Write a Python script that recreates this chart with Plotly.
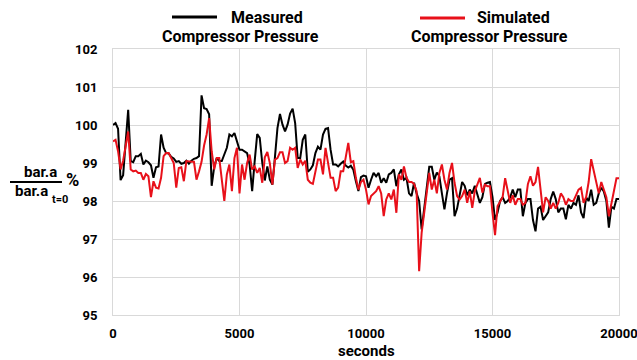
import plotly.graph_objects as go

seconds = list(range(0, 20001, 100))

measured = [
    100.0, 100.05, 99.9, 98.55, 98.68, 99.6, 100.4, 99.05, 99.02, 99.18,
    99.18, 99.24, 98.96, 99.06, 99.02, 98.94, 98.61, 98.89, 98.91, 99.75,
    99.4, 99.26, 99.25, 99.16, 99.12, 99.03, 99.05, 98.98, 99.0, 99.06,
    98.98, 99.06, 99.11, 99.13, 99.18, 100.78, 100.44, 100.42, 100.28, 98.4,
    98.9, 99.13, 99.05, 99.05, 99.22, 99.4, 99.75, 99.7, 99.79, 99.57,
    99.35, 99.35, 99.31, 99.26, 98.96, 98.26, 99.05, 99.76, 99.66, 99.0,
    98.54, 98.91, 98.56, 98.43, 99.15, 99.92, 100.29, 100.01, 99.83, 100.01,
    100.3, 100.43, 100.05, 99.13, 99.13, 99.61, 99.75, 98.77, 98.83, 98.94,
    99.26, 99.43, 99.35, 99.75, 99.9, 99.92, 99.35, 98.96, 98.96, 98.91,
    98.98, 99.04, 98.93, 98.88, 98.93, 98.82, 98.52, 98.26, 98.63, 98.67,
    98.65, 98.35, 98.56, 98.74, 98.65, 98.74, 98.48, 98.6, 98.48, 98.7,
    98.74, 98.83, 98.39, 98.7, 98.83, 98.56, 98.61, 98.2, 98.13, 98.48,
    98.2, 98.0, 97.25, 97.8, 98.3, 98.9, 98.9, 98.56, 98.75, 98.65,
    98.2, 97.78, 98.2, 98.56, 98.6, 97.6, 97.8, 98.2, 98.5, 98.4,
    98.15, 98.3, 98.2, 98.4, 98.2, 97.95, 98.1, 98.45, 98.48, 98.5,
    98.1, 97.5, 97.7, 98.0, 98.1, 97.95, 98.0, 98.1, 98.3, 98.1,
    98.3, 98.3, 97.6, 97.95, 98.05, 98.05, 97.5, 97.2, 97.8, 97.85,
    97.5, 97.6, 97.7, 98.05, 98.25, 98.05, 97.7, 97.8, 97.8, 97.52,
    97.9, 97.8, 97.95, 97.9, 98.15, 97.7, 97.55, 98.1, 98.0, 98.3,
    97.9, 97.95, 98.2, 98.35, 98.25, 98.0, 97.3, 97.85, 97.8, 98.05,
    98.05,
]

simulated = [
    99.57, 99.61, 99.31, 98.83, 99.06, 99.4, 99.83, 98.83, 98.78, 98.8,
    98.74, 98.74, 98.56, 98.71, 98.65, 98.1, 98.52, 98.35, 98.33, 98.61,
    99.18, 99.26, 99.26, 99.13, 99.0, 98.35, 98.87, 98.89, 98.52, 99.05,
    99.03, 99.03, 99.03, 98.56, 98.78, 99.03, 99.46, 99.75, 100.18, 99.31,
    98.83, 99.13, 99.13, 98.61, 98.0, 98.7, 98.96, 98.26, 99.13, 99.4,
    98.2, 98.96, 98.56, 99.0, 99.22, 98.83, 98.91, 98.74, 98.87, 98.48,
    99.15, 99.29, 98.99, 98.43, 99.09, 99.13, 99.28, 99.28, 99.0, 99.05,
    99.4, 99.35, 99.4, 98.87, 99.09, 98.96, 99.06, 98.56, 98.48, 98.45,
    98.78, 99.09, 99.09, 98.7, 99.4, 99.05, 98.61, 98.61, 98.26, 98.35,
    98.78, 98.78, 99.18, 99.53, 99.02, 99.05, 98.61, 98.3, 98.5, 98.56,
    98.3, 97.91, 98.13, 98.2, 98.26, 98.39, 98.2, 97.6, 98.04, 98.2,
    98.04, 98.3, 97.69, 98.7, 98.56, 98.91, 98.61, 98.5, 98.5, 98.45,
    98.26, 96.15, 97.17, 97.69, 98.2, 98.74, 98.3, 98.56, 98.2, 98.74,
    98.96, 98.56, 98.3, 98.74, 99.0, 98.48, 98.13, 98.04, 98.13, 98.3,
    97.95, 98.26, 97.82, 98.26, 98.43, 98.61, 98.22, 98.43, 98.39, 98.39,
    97.69, 97.1, 97.87, 98.0, 98.1, 98.6, 98.3, 97.95, 98.15, 97.9,
    98.05, 98.05, 97.9, 97.95, 98.45, 98.65, 98.4, 98.5, 98.9, 98.2,
    97.7, 98.1, 98.0, 97.8, 97.95, 97.8, 97.95, 98.2, 98.1, 97.9,
    98.05, 98.0, 98.0, 98.15, 98.3, 98.35, 97.95, 98.1, 98.5, 99.1,
    98.8, 98.5, 98.2, 98.5, 98.3, 98.1, 97.6, 97.95, 98.2, 98.6,
    98.6,
]

x_ticks = [0, 5000, 10000, 15000, 20000]
x_tick_labels = ["0", "5000", "10000", "15000", "20000"]
y_ticks = [95, 96, 97, 98, 99, 100, 101, 102]
y_tick_labels = ["95", "96", "97", "98", "99", "100", "101", "102"]

FONT = "Roboto"
BLACK = "#000000"
RED = "#e8101a"
GRID = "#d9d9d9"

fig = go.Figure()
fig.add_trace(go.Scatter(x=seconds, y=measured, mode="lines",
                         line=dict(color=BLACK, width=2), showlegend=False))
fig.add_trace(go.Scatter(x=seconds, y=simulated, mode="lines",
                         line=dict(color=RED, width=2), showlegend=False))

fig.update_layout(
    width=637, height=360,
    margin=dict(l=113, r=18, t=49, b=45, autoexpand=False),
    plot_bgcolor="white", paper_bgcolor="white",
    showlegend=False,
    font=dict(family=FONT, color="black"),
    xaxis=dict(range=[0, 20000], tickvals=x_ticks, ticktext=x_tick_labels,
               showgrid=True, gridcolor=GRID, automargin=False,
               gridwidth=1, zeroline=False, showline=True, linecolor=GRID, mirror=True,
               tickfont=dict(family=FONT, size=13, weight="bold", color="black"),
               ticks="", ticklabelstandoff=6, ticklabeloverflow="allow"),
    yaxis=dict(range=[95, 102], tickvals=y_ticks, ticktext=y_tick_labels,
               showgrid=True, gridcolor=GRID, automargin=False,
               gridwidth=1, zeroline=False, showline=True, linecolor=GRID, mirror=True,
               tickfont=dict(family=FONT, size=13, weight="bold", color="black"),
               ticks="", ticklabelstandoff=12, ticklabeloverflow="allow"),
)

def px(xp):
    return (xp - 113) / 506

def py(yp):
    return (315 - yp) / 266

shapes = [
    dict(type="line", xref="paper", yref="paper", x0=px(172), x1=px(217), y0=py(17), y1=py(17),
         line=dict(color=BLACK, width=3)),
    dict(type="line", xref="paper", yref="paper", x0=px(420), x1=px(465), y0=py(18), y1=py(18),
         line=dict(color=RED, width=3)),
    dict(type="line", xref="paper", yref="paper", x0=px(10), x1=px(62), y0=py(182), y1=py(182),
         line=dict(color=BLACK, width=2)),
]
fig.update_layout(shapes=shapes)

def ann(text, xp, yp, size, xanchor="center"):
    fig.add_annotation(text=text, xref="paper", yref="paper", x=px(xp), y=py(yp),
                       xanchor=xanchor, yanchor="middle", showarrow=False,
                       font=dict(family=FONT, size=size, color="black", weight="bold"))

ann("Measured", 266.5, 17, 16)
ann("Compressor Pressure", 240.5, 37, 16)
ann("Simulated", 513.5, 18, 16)
ann("Compressor Pressure", 489.5, 37, 16)
ann("seconds", 366, 351, 15)
ann("bar.a", 40, 172, 15)
ann("bar.a", 31.5, 191, 15)
ann("t=0", 60, 199, 11)
ann("%", 72.5, 180, 18)

fig.write_html("out.html")
